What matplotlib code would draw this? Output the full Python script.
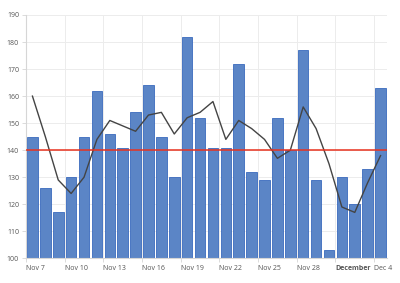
import matplotlib
matplotlib.use("Agg")
import matplotlib.pyplot as plt
import numpy as np

# daily values, Nov 7 .. Dec 4
bar_values = [145, 126, 117, 130, 145, 162, 146, 141, 154, 164, 145, 130, 182, 152,
              141, 141, 172, 132, 129, 152, 140, 177, 129, 103, 130, 120, 133, 163]
line_values = [160, 145, 129, 124, 130, 144, 151, 149, 147, 153, 154, 146, 152, 154,
               158, 144, 151, 148, 144, 137, 140, 156, 148, 135, 119, 117, 128, 138]
target = 140
tick_days = [0, 3, 6, 9, 12, 15, 18, 21, 24, 27]
tick_labels = ["Nov 7", "Nov 10", "Nov 13", "Nov 16", "Nov 19", "Nov 22",
               "Nov 25", "Nov 28", "December", "Dec 4"]

plt.rcParams['font.family'] = ['Open Sans', 'DejaVu Sans']

fig = plt.figure(figsize=(4, 2.83), dpi=100)
ax = fig.add_axes([0.065, 0.087, 0.9025, 0.86])

days = np.arange(len(bar_values))
ax.bar(days + 0.5, bar_values, width=0.82, color="#5b85c6", edgecolor="#3a6abd",
       linewidth=0.6, zorder=2)
ax.plot(days + 0.5, line_values, color="#444444", linewidth=1.0, zorder=3)
ax.axhline(target, color="#e8321e", linewidth=1.1, zorder=4)

ax.set_xlim(0, len(bar_values))
ax.set_ylim(100, 190)
ax.set_yticks(np.arange(100, 191, 10))
ax.set_xticks(tick_days)
ax.set_xticklabels(tick_labels)
for lbl in ax.get_xticklabels():
    lbl.set_horizontalalignment("left")
    if lbl.get_text() == "December":
        lbl.set_fontweight("bold")

ax.grid(True, color="#ececec", linewidth=0.7, zorder=0)
ax.set_axisbelow(True)
for s in ["top", "right"]:
    ax.spines[s].set_visible(False)
for s in ["left", "bottom"]:
    ax.spines[s].set_color("#d6d6d6")
    ax.spines[s].set_linewidth(0.8)
ax.tick_params(axis="both", labelsize=5, colors="#d6d6d6", labelcolor="#555555",
               length=3, width=0.6, pad=2)

fig.savefig("out.png", dpi=100)
